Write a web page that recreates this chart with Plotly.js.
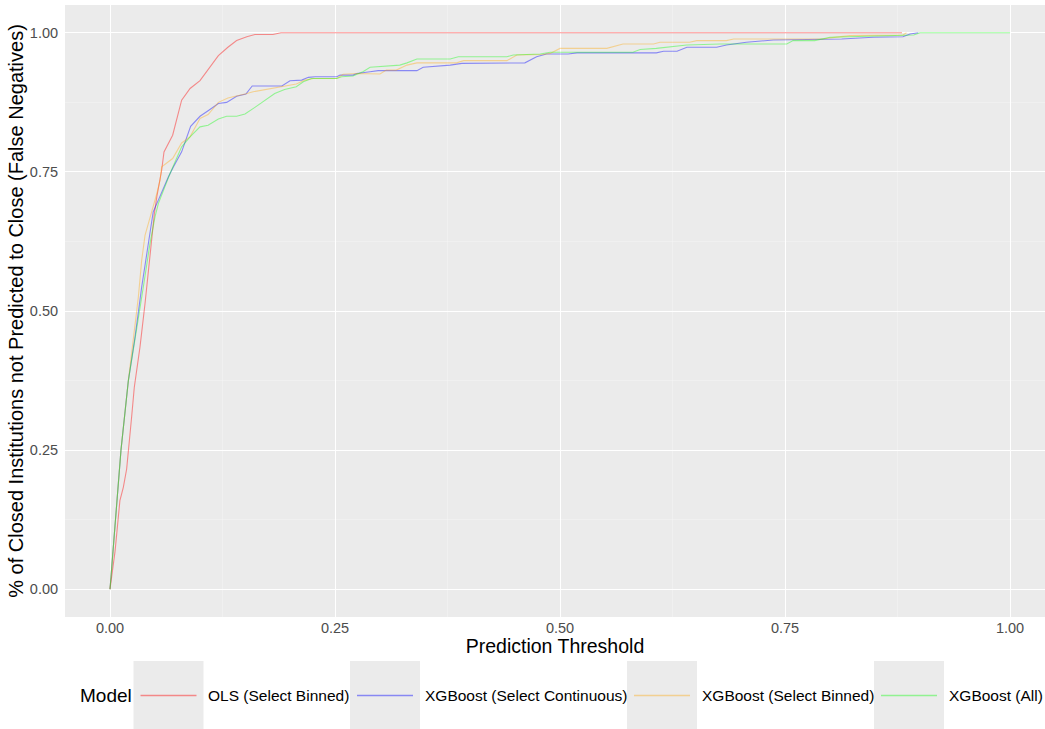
<!DOCTYPE html>
<html>
<head>
<meta charset="utf-8">
<script src="https://cdn.plot.ly/plotly-3.0.1.min.js"></script>
<style>html,body{margin:0;padding:0;background:#fff;}#chart{width:1045px;height:729px;}</style>
</head>
<body>
<div id="chart"></div>
<script>
// ---- data ----
const modelNames = ["OLS (Select Binned)", "XGBoost (Select Continuous)", "XGBoost (Select Binned)", "XGBoost (All)"];

const olsX = [0, 0.0056, 0.011, 0.0148, 0.0185, 0.0211, 0.024, 0.027, 0.0333, 0.0389, 0.0426, 0.0463, 0.0493, 0.052, 0.0574, 0.06, 0.0696, 0.0796, 0.089, 0.1, 0.111, 0.1204, 0.131, 0.1407, 0.152, 0.161, 0.181, 0.19, 0.88];
const olsY = [0, 0.068, 0.159, 0.183, 0.216, 0.255, 0.309, 0.363, 0.435, 0.513, 0.573, 0.633, 0.675, 0.705, 0.753, 0.786, 0.816, 0.879, 0.900, 0.914, 0.939, 0.959, 0.974, 0.986, 0.993, 0.997, 0.997, 1.0, 1.0];

const xgbContX = [0, 0.0122, 0.0204, 0.0278, 0.0352, 0.0426, 0.048, 0.052, 0.0574, 0.0648, 0.0704, 0.0796, 0.0896, 0.1, 0.109, 0.1204, 0.1296, 0.1407, 0.151, 0.158, 0.191, 0.2, 0.213, 0.2204, 0.228, 0.252, 0.2556, 0.27, 0.274, 0.281, 0.289, 0.298, 0.341, 0.348, 0.359, 0.378, 0.391, 0.461, 0.474, 0.485, 0.509, 0.519, 0.607, 0.615, 0.63, 0.641, 0.674, 0.685, 0.707, 0.737, 0.813, 0.848, 0.881, 0.889, 0.898];
const xgbContY = [0, 0.25, 0.375, 0.453, 0.543, 0.621, 0.678, 0.693, 0.714, 0.741, 0.759, 0.786, 0.832, 0.850, 0.860, 0.873, 0.875, 0.886, 0.890, 0.9045, 0.9045, 0.914, 0.915, 0.920, 0.921, 0.921, 0.924, 0.924, 0.927, 0.929, 0.930, 0.932, 0.932, 0.938, 0.939, 0.942, 0.945, 0.946, 0.957, 0.962, 0.962, 0.964, 0.964, 0.967, 0.967, 0.974, 0.974, 0.978, 0.983, 0.987, 0.989, 0.992, 0.993, 0.998, 1.0];

const xgbBinX = [0, 0.0122, 0.0204, 0.026, 0.0315, 0.0352, 0.0389, 0.0426, 0.048, 0.052, 0.0556, 0.0574, 0.0696, 0.0796, 0.0889, 0.1, 0.109, 0.1204, 0.131, 0.141, 0.15, 0.159, 0.17, 0.178, 0.193, 0.207, 0.2167, 0.226, 0.252, 0.259, 0.274, 0.3, 0.307, 0.318, 0.33, 0.341, 0.385, 0.393, 0.441, 0.452, 0.481, 0.489, 0.5, 0.552, 0.57, 0.604, 0.611, 0.644, 0.652, 0.685, 0.693, 0.793, 0.8, 0.822, 0.881, 0.885];
const xgbBinY = [0, 0.25, 0.375, 0.453, 0.525, 0.591, 0.636, 0.657, 0.687, 0.711, 0.735, 0.759, 0.774, 0.802, 0.813, 0.846, 0.853, 0.875, 0.883, 0.886, 0.890, 0.894, 0.897, 0.900, 0.903, 0.908, 0.915, 0.918, 0.918, 0.9256, 0.927, 0.926, 0.933, 0.933, 0.942, 0.946, 0.946, 0.950, 0.950, 0.960, 0.961, 0.963, 0.972, 0.972, 0.980, 0.980, 0.983, 0.983, 0.986, 0.986, 0.989, 0.989, 0.991, 0.995, 0.996, 1.0];

const xgbAllX = [0, 0.0122, 0.0204, 0.0285, 0.037, 0.0444, 0.05, 0.0537, 0.0611, 0.0667, 0.0796, 0.0889, 0.1, 0.109, 0.1204, 0.1296, 0.1407, 0.150, 0.161, 0.172, 0.183, 0.194, 0.207, 0.2148, 0.224, 0.252, 0.2574, 0.27, 0.281, 0.289, 0.3, 0.322, 0.33, 0.341, 0.378, 0.387, 0.441, 0.448, 0.478, 0.489, 0.581, 0.589, 0.607, 0.641, 0.678, 0.752, 0.759, 0.783, 0.8, 0.826, 0.874, 0.893, 0.9, 1.0];
const xgbAllY = [0, 0.25, 0.375, 0.453, 0.543, 0.621, 0.669, 0.693, 0.723, 0.747, 0.795, 0.813, 0.831, 0.834, 0.845, 0.850, 0.850, 0.854, 0.866, 0.879, 0.891, 0.898, 0.903, 0.912, 0.918, 0.918, 0.921, 0.9225, 0.930, 0.938, 0.939, 0.942, 0.946, 0.953, 0.953, 0.957, 0.957, 0.960, 0.962, 0.965, 0.965, 0.970, 0.972, 0.978, 0.980, 0.980, 0.986, 0.986, 0.992, 0.993, 0.995, 0.996, 1.0, 1.0];

const tickVals = [0, 0.25, 0.5, 0.75, 1.0];
const tickText = ["0.00", "0.25", "0.50", "0.75", "1.00"];

// ---- styling ----
const colors = ["rgba(255,0,0,0.42)", "rgba(0,0,255,0.42)", "rgba(255,165,0,0.38)", "rgba(0,255,0,0.38)"];
const FONT = "Liberation Sans, Arial, sans-serif";
const W = 1045, H = 729;
const M = {l: 65, r: 0, t: 5, b: 112};
const plotW = W - M.l - M.r, plotH = H - M.t - M.b;
const px = x => (x - M.l) / plotW;
const py = y => (H - M.b - y) / plotH;

const seriesX = [olsX, xgbContX, xgbBinX, xgbAllX];
const seriesY = [olsY, xgbContY, xgbBinY, xgbAllY];
const traces = seriesX.map((xs, i) => ({
  type: "scatter", mode: "lines", name: modelNames[i],
  x: xs, y: seriesY[i],
  line: {color: colors[i], width: 1.1},
  showlegend: false, hoverinfo: "skip"
}));

// custom ggplot-like legend (boxes, key lines, labels)
const legendItems = [
  {box: 133.5, text: 206},
  {box: 350, text: 422.5},
  {box: 627, text: 700},
  {box: 874, text: 947}
];
const legY0 = 661, legY1 = 729, legYc = 695.5;
const shapes = [], annotations = [];
legendItems.forEach((it, i) => {
  shapes.push({type: "rect", xref: "paper", yref: "paper", x0: px(it.box), x1: px(it.box + 70), y0: py(legY1), y1: py(legY0), fillcolor: "#EBEBEB", line: {width: 0}, layer: "below"});
  shapes.push({type: "line", xref: "paper", yref: "paper", x0: px(it.box + 7), x1: px(it.box + 63), y0: py(legYc), y1: py(legYc), line: {color: colors[i], width: 1.3}});
  annotations.push({xref: "paper", yref: "paper", x: px(it.text), y: py(legYc), xanchor: "left", yanchor: "middle", showarrow: false, text: modelNames[i], font: {family: FONT, size: 15.5, color: "#000"}});
});
annotations.push({xref: "paper", yref: "paper", x: px(78), y: py(legYc), xanchor: "left", yanchor: "middle", showarrow: false, text: "Model", font: {family: FONT, size: 19, color: "#000"}});

const axisCommon = {
  showline: false, zeroline: false,
  showgrid: true, gridcolor: "#FFFFFF", gridwidth: 1,
  tickfont: {family: FONT, size: 14.5, color: "#4D4D4D"},
  tickvals: tickVals, ticktext: tickText,
  minor: {tickvals: [0.125, 0.375, 0.625, 0.875], showgrid: true, gridcolor: "#F5F5F5", gridwidth: 0.5, ticks: ""}
};

const layout = {
  width: W, height: H,
  margin: M,
  paper_bgcolor: "#FFFFFF", plot_bgcolor: "#EBEBEB",
  showlegend: false,
  xaxis: Object.assign({}, axisCommon, {
    range: [-0.05, -0.05 + plotW / 900],
    ticks: "",
    title: {text: "Prediction Threshold", font: {family: FONT, size: 19.5, color: "#000"}, standoff: 0}
  }),
  yaxis: Object.assign({}, axisCommon, {
    range: [-0.05, 1.05],
    ticks: "outside", ticklen: 3, tickwidth: 1, tickcolor: "rgba(0,0,0,0)",
    title: {text: "% of Closed Institutions not Predicted to Close (False Negatives)", font: {family: FONT, size: 20, color: "#000"}, standoff: 0}
  }),
  shapes: shapes,
  annotations: annotations
};

Plotly.newPlot("chart", traces, layout, {displayModeBar: false, staticPlot: true});
</script>
</body>
</html>
